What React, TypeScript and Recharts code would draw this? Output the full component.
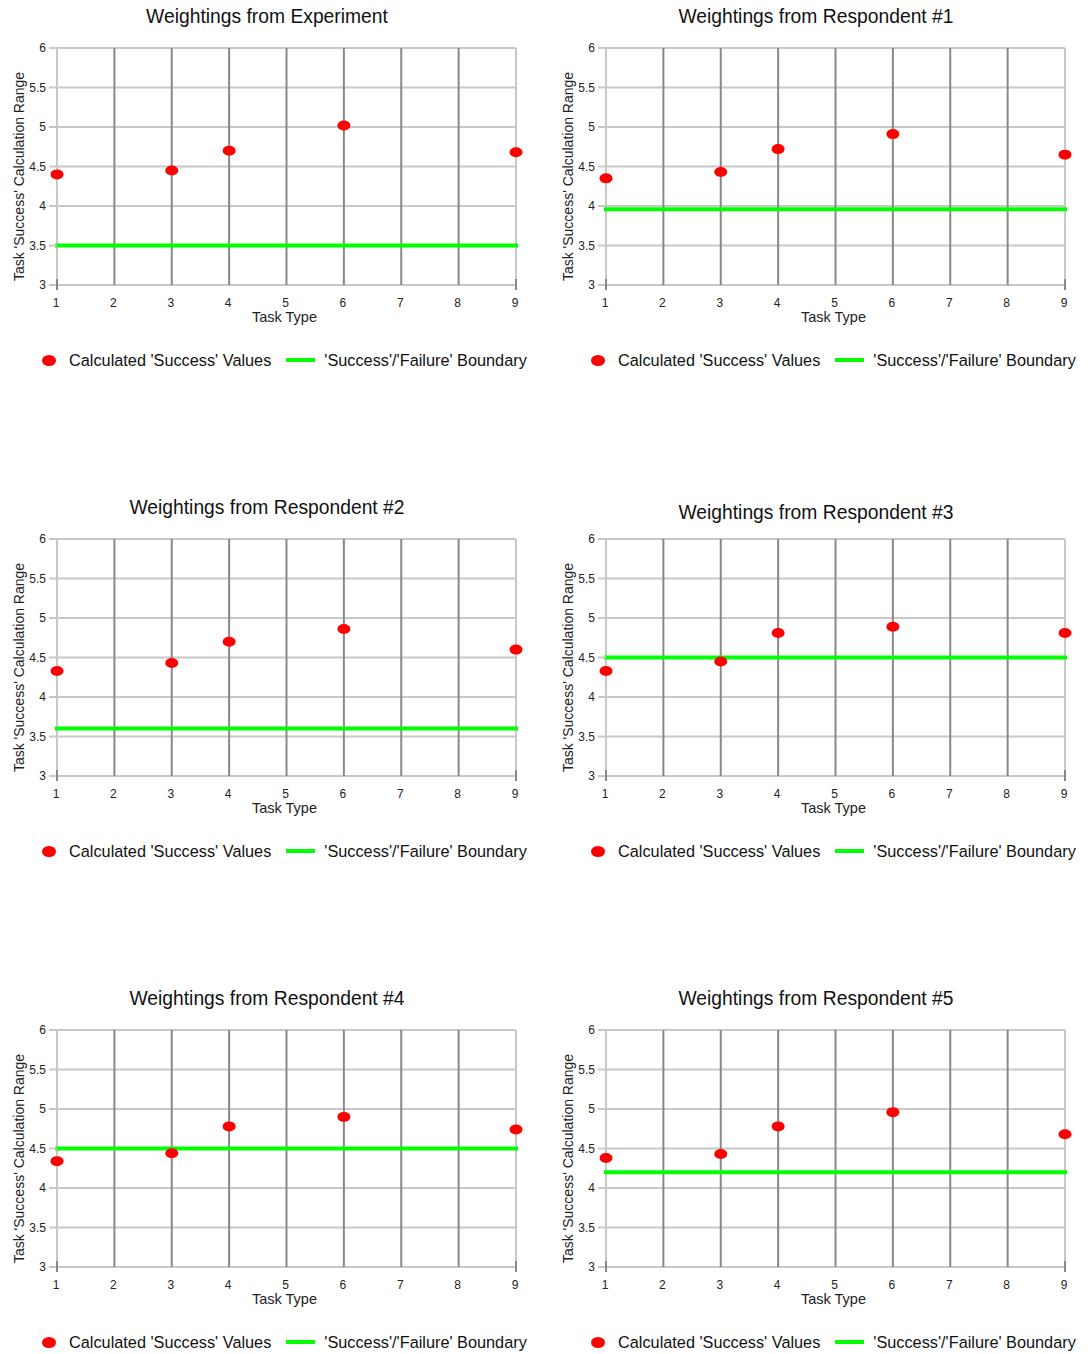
import { ComposedChart, Scatter, XAxis, YAxis, CartesianGrid, ReferenceLine } from 'recharts';

const taskTypes = [1, 3, 4, 6, 9];
const xTicks = [1, 2, 3, 4, 5, 6, 7, 8, 9];
const yTicks = [3, 3.5, 4, 4.5, 5, 5.5, 6];

const titles = [
  'Weightings from Experiment',
  'Weightings from Respondent #1',
  'Weightings from Respondent #2',
  'Weightings from Respondent #3',
  'Weightings from Respondent #4',
  'Weightings from Respondent #5',
];

const experiment = [4.4, 4.45, 4.7, 5.02, 4.68];
const respondent1 = [4.35, 4.43, 4.72, 4.91, 4.65];
const respondent2 = [4.33, 4.43, 4.7, 4.86, 4.6];
const respondent3 = [4.33, 4.45, 4.81, 4.89, 4.81];
const respondent4 = [4.34, 4.44, 4.78, 4.9, 4.74];
const respondent5 = [4.38, 4.43, 4.78, 4.96, 4.68];
const seriesValues = [experiment, respondent1, respondent2, respondent3, respondent4, respondent5];

const boundaries = [3.5, 3.96, 3.6, 4.5, 4.5, 4.2];

const FONT = '"Liberation Sans", Arial, sans-serif';
const LIGHT = '#c8c8c8';
const DARK = '#888888';

const Dot = (props: any) => (
  <ellipse cx={props.cx} cy={props.cy} rx={6.5} ry={5} fill="#ff0000" />
);

const XTick = (props: any) => {
  const { x, y, payload, index, visibleTicksCount } = props;
  const edge = index === 0 || index === visibleTicksCount - 1;
  return (
    <g>
      {edge && <line x1={x} x2={x} y1={y - 14} y2={y - 3} stroke={DARK} strokeWidth={2} />}
      <text x={x - 1} y={y + 14} textAnchor="middle" fontSize={12} fill="#222" fontFamily={FONT}>
        {payload.value}
      </text>
    </g>
  );
};

const YTitle = (props: any) => {
  const vb = props.viewBox;
  const cx = 19;
  const cy = vb.y + vb.height / 2 + 10;
  return (
    <text
      x={cx}
      y={cy}
      transform={`rotate(-90 ${cx} ${cy})`}
      textAnchor="middle"
      dominantBaseline="central"
      fontSize={14}
      fill="#222"
      fontFamily={FONT}
    >
      Task 'Success' Calculation Range
    </text>
  );
};

const XTitle = (props: any) => {
  const vb = props.viewBox;
  return (
    <text
      x={vb.x + vb.width / 2 - 2}
      y={vb.y + 32}
      textAnchor="middle"
      dominantBaseline="central"
      fontSize={14.5}
      fill="#222"
      fontFamily={FONT}
    >
      Task Type
    </text>
  );
};

function Panel({ idx, left, top }: { idx: number; left: number; top: number }) {
  const points = taskTypes.map((x, i) => ({ x, y: seriesValues[idx][i] }));
  const titleShift = idx === 3 ? 5 : 0;
  return (
    <div style={{ position: 'absolute', left, top, width: 539, height: 372 }}>
      <div
        style={{
          position: 'absolute',
          left: 0,
          top: 6 + titleShift,
          width: 534,
          textAlign: 'center',
          fontSize: 19.3,
          lineHeight: '22px',
          color: '#111',
          fontFamily: FONT,
        }}
      >
        {titles[idx]}
      </div>
      <div style={{ position: 'absolute', left: 0, top: 0 }}>
        <ComposedChart width={539} height={330} margin={{ top: 48, right: 23, bottom: 5, left: 0 }}>
          <CartesianGrid vertical={false} stroke={LIGHT} strokeWidth={2} horizontalValues={yTicks} />
          <CartesianGrid horizontal={false} stroke={DARK} strokeWidth={2} verticalValues={[2, 3, 4, 5, 6, 7, 8]} />
          <CartesianGrid horizontal={false} stroke={LIGHT} strokeWidth={2} verticalValues={[1, 9]} />
          <XAxis
            type="number"
            dataKey="x"
            domain={[1, 9]}
            ticks={xTicks}
            interval={0}
            height={40}
            axisLine={false}
            tickLine={false}
            tick={<XTick />}
            label={<XTitle />}
          />
          <YAxis
            type="number"
            dataKey="y"
            domain={[3, 6]}
            ticks={yTicks}
            interval={0}
            width={57}
            axisLine={false}
            tickLine={{ stroke: LIGHT, strokeWidth: 2 }}
            tickSize={8}
            tickMargin={3}
            tick={{ fontSize: 12, fill: '#222', fontFamily: FONT }}
            label={<YTitle />}
          />
          <ReferenceLine
            y={boundaries[idx]}
            stroke="#00ff00"
            strokeWidth={4}
            strokeLinecap="square"
            ifOverflow="extendDomain"
          />
          <Scatter data={points} dataKey="y" shape={<Dot />} isAnimationActive={false} />
        </ComposedChart>
      </div>
      <div
        style={{
          position: 'absolute',
          left: 42,
          top: 350,
          height: 20,
          display: 'flex',
          alignItems: 'center',
          fontSize: 16.3,
          color: '#111',
          fontFamily: FONT,
          whiteSpace: 'nowrap',
        }}
      >
        <span style={{ width: 14, height: 11, borderRadius: '50%', background: '#ff0000', display: 'inline-block' }} />
        <span style={{ marginLeft: 13 }}>Calculated 'Success' Values</span>
        <span style={{ marginLeft: 15, width: 29, height: 4, background: '#00ff00', display: 'inline-block' }} />
        <span style={{ marginLeft: 9 }}>'Success'/'Failure' Boundary</span>
      </div>
    </div>
  );
}

export default function App() {
  const lefts = [0, 549];
  const tops = [0, 491, 982];
  return (
    <div style={{ position: 'absolute', left: 0, top: 0, width: 1088, height: 1354, background: '#fff', overflow: 'hidden' }}>
      {titles.map((_, i) => (
        <Panel key={i} idx={i} left={lefts[i % 2]} top={tops[Math.floor(i / 2)]} />
      ))}
    </div>
  );
}
